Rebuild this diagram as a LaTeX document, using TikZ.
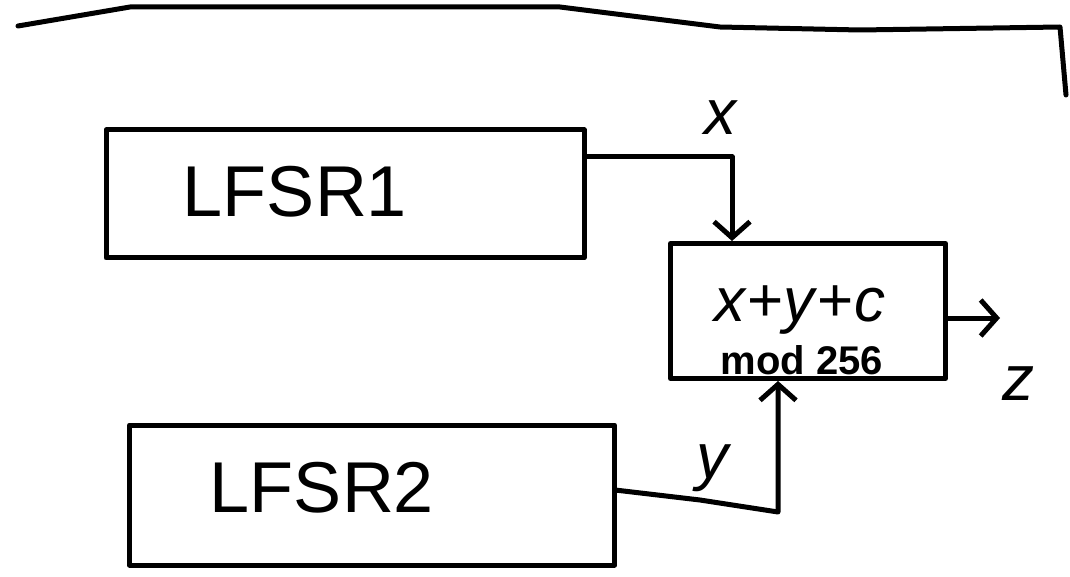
\documentclass[tikz,border=0pt]{standalone}
\usepackage{fontspec}
\setmainfont{Liberation Sans}
\usetikzlibrary{arrows.meta}
\tikzset{
  stroke/.style={line width=5pt, line cap=round, line join=round},
  boxnode/.style={stroke, draw, inner sep=0pt},
  conn/.style={stroke, -{Straight Barb[length=16pt,width=36pt,line width=5pt]}},
  lbl/.style={inner sep=0pt}
}
\begin{document}
\begin{tikzpicture}[x=1pt,y=-1pt]
\useasboundingbox (0,0) rectangle (1070,577);
% top frame line
\draw[stroke] (18,26) -- (130,7) -- (560,7) -- (720,27) -- (860,30) -- (1060,27) -- (1066,95);
% boxes
\node[boxnode, minimum width=478pt, minimum height=128pt] (l1) at (345,194) {};
\node[lbl, font=\fontsize{72}{72}\selectfont] (t1) at (295,192) {LFSR1};
\node[boxnode, minimum width=485pt, minimum height=140pt] (l2) at (372,495) {};
\node[lbl, font=\fontsize{72}{72}\selectfont] (t2) at (322,488) {LFSR2};
\node[boxnode, minimum width=275pt, minimum height=135pt] (c) at (808,311) {};
\node[lbl, font=\fontsize{62}{62}\selectfont] (f1) at (800,310) {\textit{x}+\textit{y}+\textit{c}};
\node[lbl, font=\fontsize{40}{40}\selectfont\bfseries] (f2) at (802,360) {mod 256};
% connectors
\coordinate (xa) at (585,157);
\coordinate (xb) at (732,157);
\draw[conn] (xa) -- (xb) -- (xb |- c.north);
\coordinate (ya) at (615,490);
\coordinate (yb) at (700,500);
\coordinate (yc) at (778,512);
\draw[conn] (ya) -- (yb) -- (yc) -- (yc |- c.south);
\coordinate (zo) at (1000,318);
\draw[conn] (c.east |- zo) -- (zo);
% labels
\node[lbl, font=\fontsize{64}{64}\selectfont\itshape] (lx) at (720,118) {x};
\node[lbl, font=\fontsize{64}{64}\selectfont\itshape] (ly) at (712,468) {y};
\node[lbl, font=\fontsize{64}{64}\selectfont\itshape] (lz) at (1018,384) {z};
\end{tikzpicture}
\end{document}
